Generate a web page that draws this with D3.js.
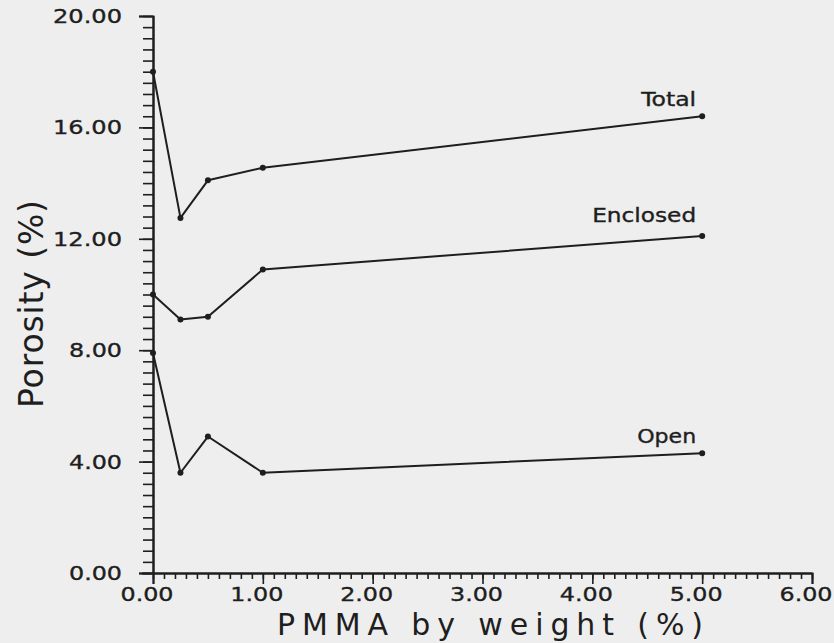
<!DOCTYPE html>
<html>
<head>
<meta charset="utf-8">
<script src="https://cdn.jsdelivr.net/npm/d3@7/dist/d3.min.js"></script>
<style>
  html, body { margin: 0; padding: 0; background: #eeeeee; }
  svg { display: block; }
  text { font-family: "DejaVu Sans", sans-serif; fill: #1e1e1e; stroke: #1e1e1e; stroke-width: 0.35px; }
</style>
</head>
<body>
<svg id="chart" width="834" height="643"></svg>
<script>
// ---- data ----
const pmma = [0.0, 0.25, 0.5, 1.0, 5.0];
const totalPorosity = [18.0, 12.75, 14.1, 14.55, 16.4];
const enclosedPorosity = [10.0, 9.1, 9.2, 10.9, 12.1];
const openPorosity = [7.9, 3.6, 4.9, 3.6, 4.3];
const seriesNames = ["Total", "Enclosed", "Open"];
const xTickValues = [0, 1, 2, 3, 4, 5, 6];
const yTickValues = [0, 4, 8, 12, 16, 20];
const xTitle = "PMMA by weight (%)";
const yTitle = "Porosity (%)";

// ---- layout ----
const svg = d3.select("#chart");
const ink = "#1e1e1e";
const x = d3.scaleLinear().domain([0, 6]).range([153, 812]);
const y = d3.scaleLinear().domain([0, 20]).range([573, 16]);

// minor ticks
const xMinor = d3.range(0, 60 + 1).map(i => i / 10);
const yMinor = d3.range(0, 50 + 1).map(i => i * 0.4);

// x axis
const gx = svg.append("g").attr("transform", `translate(0,${y(0)})`);
gx.call(d3.axisBottom(x).tickValues(xMinor).tickSize(6).tickFormat(""));
gx.append("g").call(d3.axisBottom(x).tickValues(xTickValues).tickSize(11).tickFormat(""));
gx.selectAll("path.domain").attr("stroke", ink).attr("stroke-width", 2);
gx.selectAll(".tick line").attr("stroke", ink).attr("stroke-width", 1.6);
gx.select("path.domain").attr("d", `M${x(0) - 11},0.5H${x(6)}`);

// y axis
const gy = svg.append("g").attr("transform", `translate(${x(0)},0)`);
gy.call(d3.axisLeft(y).tickValues(yMinor).tickSize(10).tickFormat(""));
gy.append("g").call(d3.axisLeft(y).tickValues(yTickValues).tickSize(14).tickFormat(""));
gy.selectAll("path.domain").attr("stroke", ink).attr("stroke-width", 2);
gy.selectAll(".tick line").attr("stroke", ink).attr("stroke-width", 1.6);
gy.select("path.domain").attr("d", `M0.5,${y(20)}V${y(0)}`);

const fmt = d3.format(".2f");
function labelLen(s) { return (s.length - 1) * 16 + 5; }

// y tick labels
svg.append("g").selectAll("text").data(yTickValues).join("text")
  .attr("x", 122).attr("y", d => y(d) + 7)
  .attr("text-anchor", "end")
  .attr("font-size", 19)
  .attr("textLength", d => labelLen(fmt(d)))
  .attr("lengthAdjust", "spacingAndGlyphs")
  .text(d => fmt(d));

// x tick labels
svg.append("g").selectAll("text").data(xTickValues).join("text")
  .attr("x", d => x(d) - 6).attr("y", 601)
  .attr("text-anchor", "middle")
  .attr("font-size", 19)
  .attr("textLength", d => labelLen(fmt(d)))
  .attr("lengthAdjust", "spacingAndGlyphs")
  .text(d => fmt(d));

// titles
svg.append("text")
  .attr("x", 490).attr("y", 635)
  .attr("text-anchor", "middle")
  .attr("font-size", 30)
  .attr("textLength", 426)
  .attr("lengthAdjust", "spacing")
  .style("stroke-width", "0px")
  .text(xTitle);

svg.append("text")
  .attr("transform", `translate(43,${(200 + 408) / 2}) rotate(-90)`)
  .attr("text-anchor", "middle")
  .attr("font-size", 33)
  .attr("textLength", 208)
  .attr("lengthAdjust", "spacing")
  .style("stroke-width", "0px")
  .text(yTitle);

// series
const allSeries = [totalPorosity, enclosedPorosity, openPorosity];
const labelDy = [-10, -14, -10];
const labelLens = [55, 104, 59];
const line = d3.line().x((d, i) => x(pmma[i])).y(d => y(d));

allSeries.forEach((vals, si) => {
  const g = svg.append("g");
  g.append("path").datum(vals)
    .attr("d", line)
    .attr("fill", "none")
    .attr("stroke", ink)
    .attr("stroke-width", 2)
    .attr("stroke-linejoin", "round");
  g.selectAll("circle").data(vals).join("circle")
    .attr("cx", (d, i) => x(pmma[i]))
    .attr("cy", d => y(d))
    .attr("r", 3)
    .attr("fill", ink);
  const last = vals.length - 1;
  g.append("text")
    .attr("x", x(pmma[last]) - 6)
    .attr("y", y(vals[last]) + labelDy[si])
    .attr("text-anchor", "end")
    .attr("font-size", 19)
    .attr("textLength", labelLens[si])
    .attr("lengthAdjust", "spacingAndGlyphs")
    .text(seriesNames[si]);
});
</script>
</body>
</html>
